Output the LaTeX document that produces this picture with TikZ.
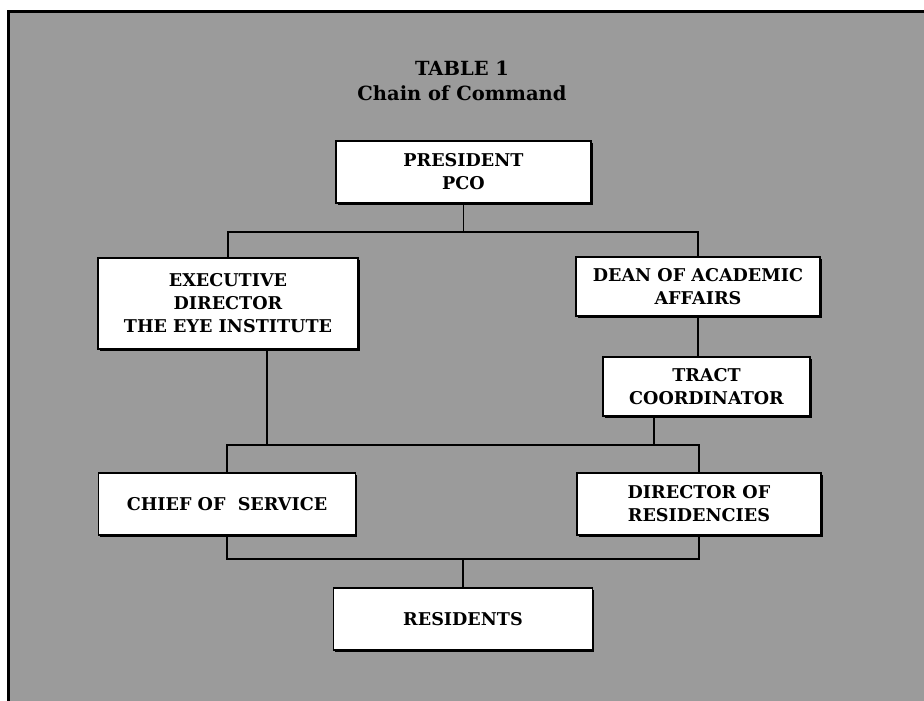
\documentclass[tikz,border=0pt]{standalone}
\usepackage{fontspec}
\setmainfont{DejaVu Serif}
\usepackage{tikz}
\usetikzlibrary{positioning,shadows}
\definecolor{bggray}{RGB}{155,155,155}

\begin{document}
\begin{tikzpicture}[
  x=1pt, y=-1pt,
  box/.style={draw=black, line width=1.2pt, fill=white,
              general shadow={shadow xshift=1.6pt, shadow yshift=-1.6pt, fill=black},
              text centered, align=center, inner sep=2pt,
              font=\bfseries\fontsize{17.6}{23}\selectfont},
  hd/.style={font=\bfseries\fontsize{19.5}{22}\selectfont, anchor=base},
  link/.style={draw=black, line width=1.3pt},
]

\useasboundingbox (0,0) rectangle (924,701);

%% ---- Background panel ----
\fill[bggray] (7,10) rectangle (924,701);
\draw[line width=3pt] (8,701) -- (8,11.5) -- (924,11.5);

%% ---- Title ----
\node[hd] (ttl) at (462,75)  {TABLE 1};
\node[hd] (sub) at (462,100) {Chain of Command};

%% ---- Boxes ----
\node[box, minimum width=255pt, minimum height=62pt] (pres)  at (463.5,172)  {PRESIDENT\\PCO};
\node[box, minimum width=260pt, minimum height=91pt] (exec)  at (228,303.5)  {EXECUTIVE\\DIRECTOR\\THE EYE INSTITUTE};
\node[box, minimum width=244pt, minimum height=59pt] (dean)  at (698,286.5)  {DEAN OF ACADEMIC\\AFFAIRS};
\node[box, minimum width=207pt, minimum height=59pt] (tract) at (706.5,386.5) {TRACT\\COORDINATOR};
\node[box, minimum width=257pt, minimum height=62pt] (chief) at (227,504)    {CHIEF OF \ SERVICE};
\node[box, minimum width=244pt, minimum height=62pt] (dir)   at (699,504)    {DIRECTOR OF\\RESIDENCIES};
\node[box, minimum width=259pt, minimum height=62pt] (res)   at (463,619)    {RESIDENTS};

%% ---- Junctions ----
\coordinate (jtop)   at (463.5,232);
\coordinate (jexec)  at (267,445);
\coordinate (jtract) at (654,445);
\coordinate (jlow)   at (463,559);

%% ---- Connectors ----
\draw[link] (pres.south) -- (jtop);
\draw[link] (exec.north) |- (jtop) -| (dean.north);
\draw[link] (dean.south) -- (dean.south |- tract.north);
\draw[link] (jexec |- exec.south) -- (jexec);
\draw[link] (jtract |- tract.south) -- (jtract);
\draw[link] (chief.north) |- (jexec) -| (dir.north);
\draw[link] (chief.south) |- (jlow) -| (dir.south);
\draw[link] (jlow) -- (res.north);

\end{tikzpicture}
\end{document}
